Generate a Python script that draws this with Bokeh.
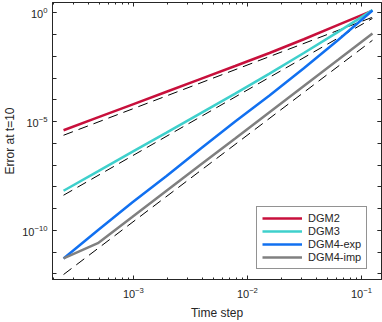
import numpy as np
from bokeh.plotting import figure
from bokeh.models import (Range1d, FixedTicker, LogAxis, Legend, LegendItem,
                          CustomJSTickFormatter)
from bokeh.embed import file_html
from bokeh.resources import INLINE

# ---- data ----
time_step = [2.441e-4, 4.883e-4, 9.766e-4, 1.953e-3, 3.906e-3,
             7.813e-3, 1.5625e-2, 3.125e-2, 6.25e-2, 0.125]
err_dgm2 = [3.98e-6, 1.55e-5, 6.03e-5, 2.34e-4, 9.12e-4,
            3.55e-3, 1.41e-2, 6.03e-2, 0.275, 1.26]
err_dgm3 = [6.6e-9, 5.1e-8, 4.0e-7, 3.1e-6, 2.45e-5,
            1.9e-4, 1.58e-3, 1.41e-2, 0.132, 1.32]
err_dgm4_exp = [5.1e-12, 1.0e-10, 1.9e-9, 3.16e-8, 5.75e-7,
                1.0e-5, 1.58e-4, 2.8e-3, 5.6e-2, 1.26]
err_dgm4_imp = [5.1e-12, 2.57e-11, 4.1e-10, 6.6e-9, 1.05e-7,
                1.66e-6, 2.7e-5, 4.3e-4, 6.9e-3, 0.112]

ref_x = [2.441e-4, 0.125]
ref_order2 = [2.34e-6, 0.62]
ref_order3 = [4.1e-9, 0.55]
ref_order4 = [9.3e-13, 0.054]

labels = ["DGM2", "DGM3", "DGM4-exp", "DGM4-imp"]
colors = ["#C8103C", "#3FD0CC", "#1170F0", "#808080"]

x_major = [1e-3, 1e-2, 1e-1]
x_minor = [k * 10.0 ** n for n in range(-4, 0) for k in range(1, 10)]
y_major = [1e-10, 1e-5, 1e0]
y_minor = [10.0 ** n for n in range(-12, 1)]

FONT = "Liberation Sans"
AX = "#262626"

p = figure(width=382, height=322, output_backend="svg", toolbar_location=None,
           x_axis_type="log", y_axis_type="log",
           x_range=Range1d(1.953e-4, 0.15), y_range=Range1d(5.5e-13, 2.95),
           min_border_left=52, min_border_right=1, min_border_top=2,
           min_border_bottom=41)
p.xgrid.visible = False
p.ygrid.visible = False
p.outline_line_color = AX
p.outline_line_width = 1
p.background_fill_color = "white"
p.border_fill_color = "white"

xt = FixedTicker(ticks=x_major, minor_ticks=x_minor)
yt = FixedTicker(ticks=y_major, minor_ticks=y_minor)

def style(ax, ticker, minor_len, show_labels=True):
    ax.ticker = ticker
    ax.axis_line_color = AX
    ax.major_tick_line_color = AX
    ax.minor_tick_line_color = AX
    ax.major_tick_in = 4
    ax.major_tick_out = 0
    ax.minor_tick_in = minor_len
    ax.minor_tick_out = 0
    ax.major_label_text_font = FONT
    ax.major_label_text_color = AX
    ax.axis_label_text_font = FONT
    ax.axis_label_text_color = AX
    ax.axis_label_text_font_style = "normal"
    if show_labels:
        ax.major_label_text_font_size = "11px"
        ax.axis_label_text_font_size = "12px"
    else:
        ax.formatter = CustomJSTickFormatter(code="return ''")
        ax.major_label_text_font_size = "0px"
        ax.major_label_standoff = 0

style(p.xaxis[0], xt, 2)
style(p.yaxis[0], yt, 4)
p.xaxis[0].axis_label = "Time step"
p.yaxis[0].axis_label = "Error at t=10"
p.xaxis[0].major_label_standoff = 7
p.yaxis[0].major_label_standoff = 5
p.xaxis[0].axis_label_standoff = 5
p.yaxis[0].axis_label_standoff = 2

top_ax = LogAxis()
right_ax = LogAxis()
style(top_ax, xt, 2, show_labels=False)
style(right_ax, yt, 4, show_labels=False)
p.add_layout(top_ax, "above")
p.add_layout(right_ax, "right")

# reference slope lines
for ry in (ref_order2, ref_order3, ref_order4):
    p.line(ref_x, ry, line_color="black", line_width=1, line_dash="10 6")

items = []
for lab, col, ys in zip(labels, colors,
                        [err_dgm2, err_dgm3, err_dgm4_exp, err_dgm4_imp]):
    r = p.line(time_step, ys, line_color=col, line_width=2.5)
    items.append(LegendItem(label=lab, renderers=[r]))

leg = Legend(items=items, location=(204, 10))
leg.label_text_font = FONT
leg.label_text_font_size = "11px"
leg.label_text_color = AX
leg.glyph_width = 40
leg.glyph_height = 12
leg.label_height = 12
leg.spacing = 1
leg.padding = 5
leg.margin = 0
leg.label_standoff = 6
leg.border_line_color = AX
leg.border_line_width = 1
leg.background_fill_alpha = 1
p.add_layout(leg, "center")

open("out.html", "w").write(file_html(p, INLINE))
